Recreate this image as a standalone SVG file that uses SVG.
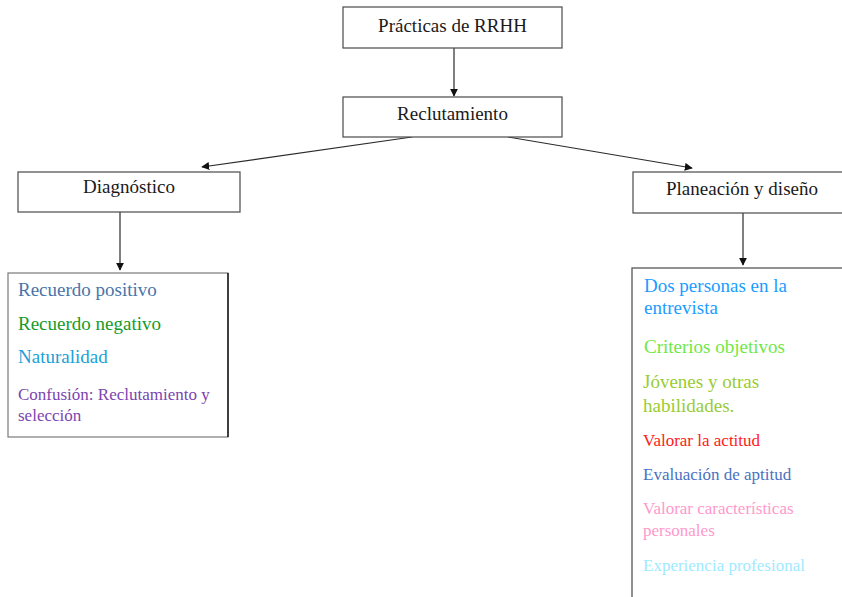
<svg xmlns="http://www.w3.org/2000/svg" width="842" height="597" viewBox="0 0 842 597">
  <style>
    .box { fill: #ffffff; stroke: #4a4a4a; stroke-width: 1.2; }
    .list { fill: #ffffff; stroke: #7a7a7a; stroke-width: 1.2; }
    .title { font-family: "Liberation Serif", "Times New Roman", serif; font-size: 19px; fill: #1a1a1a; text-anchor: middle; }
    .item { font-family: "Liberation Serif", "Times New Roman", serif; font-size: 19px; }
    .small { font-size: 17px; }
    .conn { stroke: #2a2a2a; stroke-width: 1.2; fill: none; marker-end: url(#arrow); }
  </style>
  <defs>
    <marker id="arrow" viewBox="0 0 10 10" refX="9" refY="5" markerWidth="8" markerHeight="8" markerUnits="userSpaceOnUse" orient="auto">
      <path d="M0,0 L10,5 L0,10 Z" fill="#111111"/>
    </marker>
  </defs>

  <rect width="842" height="597" fill="#ffffff"/>

  <!-- connectors -->
  <g id="connectors">
    <line class="conn" x1="454" y1="48" x2="454" y2="96"/>
    <line class="conn" x1="412" y1="137" x2="202" y2="167"/>
    <line class="conn" x1="508" y1="137" x2="692" y2="168"/>
    <line class="conn" x1="120" y1="212" x2="120" y2="270"/>
    <line class="conn" x1="743" y1="213" x2="743" y2="265"/>
  </g>

  <g id="practicas">
    <rect class="box" x="343" y="7" width="219" height="41"/>
    <text class="title" x="452.5" y="32">Prácticas de RRHH</text>
  </g>

  <g id="reclutamiento">
    <rect class="box" x="343" y="97" width="219" height="40"/>
    <text class="title" x="452.5" y="120">Reclutamiento</text>
  </g>

  <g id="diagnostico">
    <rect class="box" x="18" y="172" width="222" height="40"/>
    <text class="title" x="129" y="193">Diagnóstico</text>
  </g>

  <g id="planeacion">
    <rect class="box" x="633" y="172" width="220" height="41"/>
    <text class="title" x="742" y="195">Planeación y diseño</text>
  </g>

  <g id="lista-diagnostico">
    <rect class="list" x="8" y="273" width="220" height="164"/>
    <line x1="228" y1="273" x2="228" y2="437" stroke="#111111" stroke-width="1.4"/>
    <text class="item" x="18" y="296" fill="#4a74a8">Recuerdo positivo</text>
    <text class="item" x="18" y="330" fill="#169b2a">Recuerdo negativo</text>
    <text class="item" x="18" y="363" fill="#1ba1d6">Naturalidad</text>
    <text class="item small" x="18" y="400" fill="#7b44b0">Confusión: Reclutamiento y</text>
    <text class="item small" x="18" y="421" fill="#7b44b0">selección</text>
  </g>

  <g id="lista-planeacion">
    <rect class="list" x="632" y="268" width="230" height="340" style="stroke:#4a4a4a"/>
    <text class="item" x="644" y="292" fill="#1a9cff">Dos personas en la</text>
    <text class="item" x="644" y="314" fill="#1a9cff">entrevista</text>
    <text class="item" x="644" y="353" fill="#6fe847">Criterios objetivos</text>
    <text class="item" x="643" y="388" fill="#99cc33">Jóvenes y otras</text>
    <text class="item" x="643" y="412" fill="#99cc33">habilidades.</text>
    <text class="item small" x="643" y="446" fill="#ff2020">Valorar la actitud</text>
    <text class="item small" x="643" y="480" fill="#4a72c0">Evaluación de aptitud</text>
    <text class="item small" x="643" y="514" fill="#ff99cc">Valorar características</text>
    <text class="item small" x="643" y="536" fill="#ff99cc">personales</text>
    <text class="item small" x="643" y="571" fill="#a0eaff">Experiencia profesional</text>
  </g>
</svg>
